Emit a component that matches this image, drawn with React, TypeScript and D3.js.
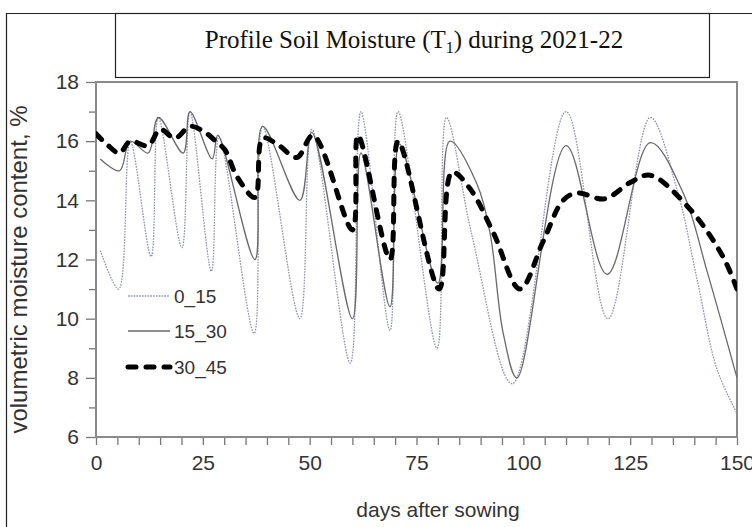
import React from "react";
import * as d3 from "d3";

// tick labels
const xTicks = [0, 25, 50, 75, 100, 125, 150];
const yTicks = [6, 8, 10, 12, 14, 16, 18];

// 0_15 cm layer (dotted)
const days0_15 = [1, 5.3, 8, 12.9, 14.6, 20.1, 22, 27, 28.8, 37, 39, 47.7, 50.5, 59.5, 62, 68.8, 70.7, 79.8, 82, 88, 97.4, 110, 119.8, 129.7, 136, 140.7, 145.3, 150];
const moist0_15 = [12.3, 11.0, 16.0, 12.1, 16.8, 12.4, 17.0, 11.6, 16.15, 9.5, 16.5, 10.0, 16.4, 8.5, 17.0, 9.6, 17.0, 9.0, 16.8, 12.8, 7.8, 17.0, 10.0, 16.8, 14.35, 11.3, 8.3, 6.8];

// 15_30 cm layer (thin solid)
const days15_30 = [1, 5.5, 8, 12.2, 14.6, 20.4, 22, 27.2, 28.5, 37.2, 39, 47.7, 50.5, 60, 62, 68.8, 71, 80, 82.8, 89, 92.2, 95.3, 98.5, 110, 119.6, 129.7, 137.4, 143, 150];
const moist15_30 = [15.4, 15.0, 16.0, 15.6, 16.8, 15.6, 17.0, 15.4, 16.2, 12.0, 16.5, 14.0, 16.3, 10.0, 15.6, 10.4, 15.9, 11.2, 16.0, 14.6, 12.9, 9.5, 8.0, 15.85, 11.5, 15.95, 14.25, 11.6, 8.0];

// 30_45 cm layer (thick dashed)
const days30_45 = [0, 2.5, 5.5, 8, 12.2, 15, 18.5, 22, 25.5, 28, 30.2, 33, 37.2, 39, 42.4, 47, 50.8, 60, 61.3, 68.8, 70.7, 80.3, 83.3, 87.5, 93, 99.2, 104.6, 109.3, 112.6, 119, 125, 129.7, 139, 146.7, 150];
const moist30_45 = [16.25, 15.9, 15.6, 16.0, 15.85, 16.4, 16.1, 16.5, 16.3, 16.0, 15.7, 14.8, 14.1, 16.1, 15.9, 15.45, 16.2, 13.0, 16.2, 12.0, 16.0, 11.0, 14.95, 14.4, 12.9, 11.0, 12.6, 14.0, 14.25, 14.05, 14.6, 14.85, 13.7, 12.1, 11.0];

const seriesNames = ["0_15", "15_30", "30_45"];

export default function App() {
  const svgRef = React.useRef<SVGSVGElement>(null);
  const width = 752;
  const height = 527;
  const plot = { left: 96, top: 82, right: 737, bottom: 437 };

  React.useEffect(() => {
    const svg = d3.select(svgRef.current);
    svg.selectAll("*").remove();

    const x = d3.scaleLinear().domain([0, 150]).range([plot.left, plot.right]);
    const y = d3.scaleLinear().domain([6, 18]).range([plot.bottom, plot.top]);
    const sans = "'Liberation Sans', Arial, sans-serif";

    svg.append("rect").attr("width", width).attr("height", height).attr("fill", "#fff");

    // outer frame
    svg.append("path")
      .attr("d", `M6.5,${height} V13.5 H${width}`)
      .attr("fill", "none").attr("stroke", "#222").attr("stroke-width", 1.2);

    // y axis: minor then major ticks
    const yMinor = svg.append("g").attr("transform", `translate(${plot.left},0)`)
      .call(d3.axisLeft(y).tickValues(d3.range(7, 18, 2)).tickSize(7).tickFormat(() => ""));
    const yMajor = svg.append("g").attr("transform", `translate(${plot.left},0)`)
      .call(d3.axisLeft(y).tickValues(yTicks).tickSize(10).tickPadding(7));
    [yMinor, yMajor].forEach(g => {
      g.select(".domain").remove();
      g.selectAll("line").attr("stroke", "#777").attr("stroke-width", 1.3);
    });
    yMajor.selectAll("text").attr("font-family", sans).attr("font-size", 21).attr("fill", "#333");

    // x axis
    const xAxisG = svg.append("g").attr("transform", `translate(0,${plot.bottom})`)
      .call(d3.axisBottom(x).tickValues(d3.range(0, 151, 5)).tickSize(8).tickPadding(10)
        .tickFormat(d => (xTicks.includes(+d) ? String(d) : "")));
    xAxisG.select(".domain").remove();
    xAxisG.selectAll("line").attr("stroke", "#777").attr("stroke-width", 1.3);
    xAxisG.selectAll("text").attr("font-family", sans).attr("font-size", 21).attr("fill", "#333");

    // plot frame
    svg.append("rect")
      .attr("x", plot.left).attr("y", plot.top)
      .attr("width", plot.right - plot.left).attr("height", plot.bottom - plot.top)
      .attr("fill", "none").attr("stroke", "#8a8a8a").attr("stroke-width", 2);

    svg.append("clipPath").attr("id", "plotclip").append("rect")
      .attr("x", plot.left).attr("y", plot.top - 5)
      .attr("width", plot.right - plot.left).attr("height", plot.bottom - plot.top + 5);

    const line = d3.line<[number, number]>()
      .x(d => x(d[0])).y(d => y(d[1]))
      .curve(d3.curveCatmullRom.alpha(0.5));

    const s0 = days0_15.map((d, i) => [d, moist0_15[i]] as [number, number]);
    const s1 = days15_30.map((d, i) => [d, moist15_30[i]] as [number, number]);
    const s2 = days30_45.map((d, i) => [d, moist30_45[i]] as [number, number]);

    const styles = [
      { stroke: "#8d93ad", width: 1.3, dash: "1.6,1.2", cap: "butt" },
      { stroke: "#6a6a6a", width: 1.3, dash: null, cap: "butt" },
      { stroke: "#000", width: 5, dash: "8,10", cap: "round" },
    ];

    const lines = svg.append("g").attr("clip-path", "url(#plotclip)");
    [s0, s1, s2].forEach((s, i) => {
      const st = styles[i];
      lines.append("path")
        .attr("d", line(s))
        .attr("fill", "none")
        .attr("stroke", st.stroke)
        .attr("stroke-width", st.width)
        .attr("stroke-dasharray", st.dash)
        .attr("stroke-linecap", st.cap);
    });

    // legend
    const legY = [296, 331, 367];
    seriesNames.forEach((name, i) => {
      const st = styles[i];
      svg.append("line")
        .attr("x1", 128).attr("x2", 170).attr("y1", legY[i]).attr("y2", legY[i])
        .attr("stroke", st.stroke).attr("stroke-width", st.width)
        .attr("stroke-dasharray", st.dash).attr("stroke-linecap", st.cap);
      svg.append("text")
        .attr("x", 174).attr("y", legY[i]).attr("dy", "0.36em")
        .attr("font-family", sans).attr("font-size", 19).attr("fill", "#333")
        .text(name);
    });

    // title box
    svg.append("rect")
      .attr("x", 115.5).attr("y", 13.5).attr("width", 594).attr("height", 64)
      .attr("fill", "#fff").attr("stroke", "#222").attr("stroke-width", 1.2);
    const title = svg.append("text")
      .attr("x", 414).attr("y", 48).attr("text-anchor", "middle")
      .attr("font-family", "'Liberation Serif', 'Times New Roman', serif")
      .attr("font-size", 25).attr("fill", "#111");
    title.append("tspan").text("Profile Soil Moisture (T");
    title.append("tspan").attr("font-size", 16).attr("dy", 5).text("1");
    title.append("tspan").attr("dy", -5).text(") during 2021-22");

    // axis titles
    svg.append("text")
      .attr("transform", `translate(27,${(plot.top + plot.bottom) / 2 + 10}) rotate(-90)`)
      .attr("text-anchor", "middle")
      .attr("font-family", sans).attr("font-size", 24).attr("fill", "#333")
      .text("volumetric moisture content, %");
    svg.append("text")
      .attr("x", 438).attr("y", 517).attr("text-anchor", "middle")
      .attr("font-family", sans).attr("font-size", 21).attr("fill", "#333")
      .text("days after sowing");
  }, []);

  return (
    <svg ref={svgRef} width={width} height={height}
      style={{ position: "absolute", left: 0, top: 0 }} />
  );
}
